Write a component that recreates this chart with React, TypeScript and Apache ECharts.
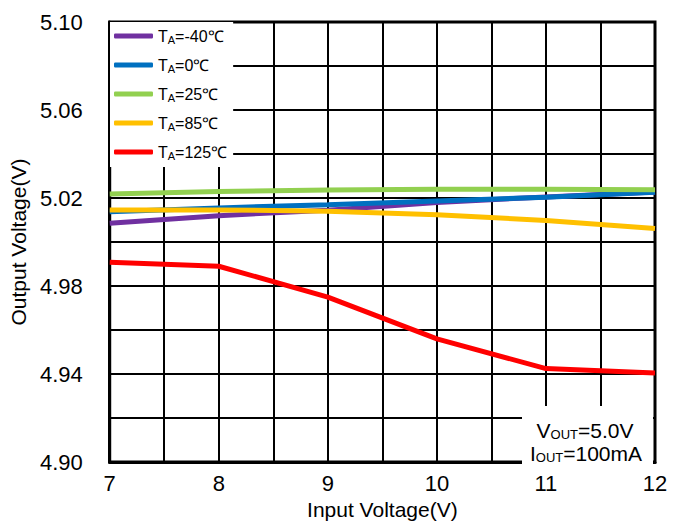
import React, { useEffect, useRef } from "react";
import * as echarts from "echarts";

const inputVoltage = [7, 8, 9, 10, 11, 12];
const temps = ["-40", "0", "25", "85", "125"];
const colors = ["#7030A0", "#0070C0", "#92D050", "#FFC000", "#FF0000"];
const vM40 = [5.0085, 5.012, 5.0145, 5.018, 5.0205, 5.0228];
const v0 = [5.0138, 5.0155, 5.017, 5.0187, 5.0204, 5.0226];
const v25 = [5.0218, 5.023, 5.0236, 5.024, 5.024, 5.0238];
const v85 = [5.0146, 5.0146, 5.014, 5.0124, 5.0098, 5.0062];
const v125 = [4.9908, 4.989, 4.975, 4.956, 4.9425, 4.9405];
const seriesValues = [vM40, v0, v25, v85, v125];

const FONT = "Liberation Sans, Arial, sans-serif";

export default function App() {
  const ref = useRef<HTMLDivElement>(null);
  useEffect(() => {
    if (!ref.current) return;
    const chart = echarts.init(ref.current, null, { renderer: "svg" });
    const series = temps.map((t, i) => ({
      name: `TA=${t}℃`,
      type: "line",
      data: inputVoltage.map((x, j) => [x, seriesValues[i][j]]),
      showSymbol: false,
      symbol: "none",
      lineStyle: { color: colors[i], width: 5 },
      itemStyle: { color: colors[i] },
      z: 5 + i,
    }));
    chart.setOption({
      animation: false,
      backgroundColor: "#fff",
      textStyle: { fontFamily: FONT },
      grid: {
        left: 107,
        right: 26,
        top: 22,
        bottom: 58,
        show: true,
        borderColor: "#000",
        borderWidth: 3,
        backgroundColor: "transparent",
      },
      legend: {
        orient: "vertical",
        left: 110,
        top: 22,
        itemWidth: 39,
        itemHeight: 5,
        itemGap: 12,
        icon: "roundRect",
        backgroundColor: "#fff",
        padding: [6, 6, 6, 4],
        z: 20,
        data: series.map((s) => s.name),
        formatter: (name: string) => {
          const rest = name.slice(2);
          return `{t|T}{s|A}{t|${rest}}`;
        },
        textStyle: {
          fontFamily: FONT,
          color: "#000",
          rich: {
            t: { fontSize: 16, fontFamily: FONT, color: "#000" },
            s: { fontSize: 11, fontFamily: FONT, color: "#000", padding: [7, 0, 0, 0] },
          },
        },
      },
      xAxis: {
        type: "value",
        min: 7,
        max: 12,
        interval: 0.5,
        name: "Input Voltage(V)",
        nameLocation: "middle",
        nameGap: 35,
        nameTextStyle: { fontSize: 21, color: "#000", fontFamily: FONT },
        axisLine: { show: true, lineStyle: { color: "#000", width: 3 } },
        axisTick: { show: false },
        axisLabel: {
          fontSize: 22,
          color: "#000",
          fontFamily: FONT,
          margin: 10,
          formatter: (v: number) => (Math.abs(v - Math.round(v)) < 1e-6 ? String(Math.round(v)) : ""),
        },
        splitLine: { show: true, lineStyle: { color: "#000", width: 2 } },
      },
      yAxis: {
        type: "value",
        min: 4.9,
        max: 5.1,
        interval: 0.02,
        name: "Output Voltage(V)",
        nameLocation: "middle",
        nameGap: 72,
        nameRotate: 90,
        nameTextStyle: { fontSize: 21, color: "#000", fontFamily: FONT },
        axisLine: { show: true, lineStyle: { color: "#000", width: 3 } },
        axisTick: { show: false },
        axisLabel: {
          fontSize: 22,
          color: "#000",
          fontFamily: FONT,
          margin: 27,
          formatter: (v: number) => {
            const k = Math.round((v - 4.9) / 0.02);
            return k % 2 === 0 ? v.toFixed(2) : "";
          },
        },
        splitLine: { show: true, lineStyle: { color: "#000", width: 2 } },
      },
      graphic: [
        {
          type: "rect",
          shape: { x: 522, y: 406, width: 131, height: 59 },
          style: { fill: "#fff" },
          z: 20,
        },
        {
          type: "text",
          x: 585,
          y: 430,
          z: 21,
          style: {
            text: "{t|V}{s|OUT}{t|=5.0V}",
            align: "center",
            verticalAlign: "middle",
            rich: {
              t: { fontSize: 21, fontFamily: FONT, fill: "#000" },
              s: { fontSize: 13, fontFamily: FONT, fill: "#000", padding: [9, 0, 0, 0] },
            },
          },
        },
        {
          type: "text",
          x: 586,
          y: 453,
          z: 21,
          style: {
            text: "{t|I}{s|OUT}{t|=100mA}",
            align: "center",
            verticalAlign: "middle",
            rich: {
              t: { fontSize: 21, fontFamily: FONT, fill: "#000" },
              s: { fontSize: 13, fontFamily: FONT, fill: "#000", padding: [9, 0, 0, 0] },
            },
          },
        },
      ],
      series,
    });
    return () => chart.dispose();
  }, []);
  return (
    <div
      ref={ref}
      style={{ position: "fixed", left: 0, top: 0, width: 681, height: 525 }}
    />
  );
}
